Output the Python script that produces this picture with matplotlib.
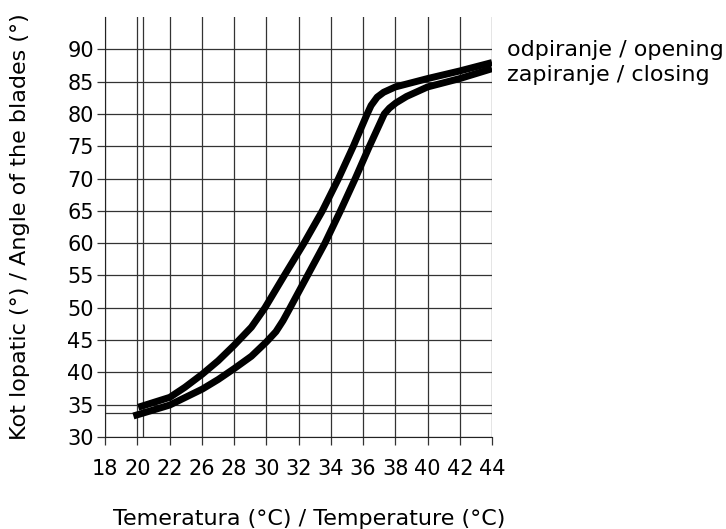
import matplotlib
matplotlib.use("Agg")
import matplotlib.pyplot as plt

# x tick labels (as printed on the chart, equally spaced)
x_tick_labels = ["18", "20", "22", "26", "28", "30", "32", "34", "36", "38", "40", "42", "44"]
y_ticks = [30, 35, 40, 45, 50, 55, 60, 65, 70, 75, 80, 85, 90]

# curves: x in tick-position units (0 = "18", 12 = "44")
opening_x = [1.03, 2.01, 2.48, 3.02, 3.51, 4.01, 4.54, 4.96, 5.56, 6.17, 6.74, 7.24, 7.7, 8.13,
             8.25, 8.44, 8.64, 9.0, 10.0, 11.0, 12.0]
opening_y = [34.6, 36.14, 37.7, 39.74, 41.8, 44.23, 47.0, 50, 55, 60, 65, 70, 75, 80,
             81.3, 82.6, 83.35, 84.17, 85.47, 86.65, 87.95]

closing_x = [0.88, 2.01, 2.48, 3.02, 3.51, 4.01, 4.54, 5.01, 5.3, 5.52, 5.74, 6.28, 6.82, 7.3, 7.76, 8.2,
             8.66, 8.82, 9.02, 9.35, 10.0, 11.0, 12.0]
closing_y = [33.25, 34.95, 36.1, 37.42, 38.9, 40.6, 42.5, 44.74, 46.3, 48.0, 50, 55, 60, 65, 70, 75,
             80, 80.9, 81.7, 82.7, 84.17, 85.47, 87.0]

extra_vline = 1.17
extra_hline = 33.66

fig = plt.figure(figsize=(7.26, 5.29), dpi=100)
ax = fig.add_axes([105/726, 1-437/529, (492-105)/726, (437-17)/529])

ax.set_xlim(0, 12)
ax.set_ylim(30, 95)

grid_kw = dict(color="#333333", lw=0.9, zorder=1)
for i in range(len(x_tick_labels)):
    ax.axvline(i, **grid_kw)
for v in y_ticks:
    ax.axhline(v, **grid_kw)
ax.axvline(extra_vline, **grid_kw)
ax.axhline(extra_hline, **grid_kw)

ax.plot(opening_x, opening_y, color="black", lw=5.0, solid_joinstyle="round",
        solid_capstyle="butt", zorder=3)
ax.plot(closing_x, closing_y, color="black", lw=5.0, solid_joinstyle="round",
        solid_capstyle="butt", zorder=3)

ax.set_xticks(range(len(x_tick_labels)))
ax.set_xticklabels(x_tick_labels)
ax.set_yticks(y_ticks)
ax.tick_params(axis="both", labelsize=15, length=6, width=0.9, color="#333333")
ax.tick_params(axis="x", pad=10)
ax.tick_params(axis="y", pad=2)

for s in ["top", "right"]:
    ax.spines[s].set_visible(False)
ax.spines["left"].set_color("#222222")
ax.spines["bottom"].set_color("#222222")

ax.set_xlabel("Temeratura (°C) / Temperature (°C)", fontsize=16)
ax.xaxis.set_label_coords(0.527, -0.171)
ax.set_ylabel("Kot lopatic (°) / Angle of the blades (°)", fontsize=16)
ax.yaxis.set_label_coords(-0.195, 0.5)

fig.text(507/726, 1-50/529, "odpiranje / opening", fontsize=16, va="center", ha="left")
fig.text(507/726, 1-75/529, "zapiranje / closing", fontsize=16, va="center", ha="left")

fig.savefig("out.png", dpi=100)
